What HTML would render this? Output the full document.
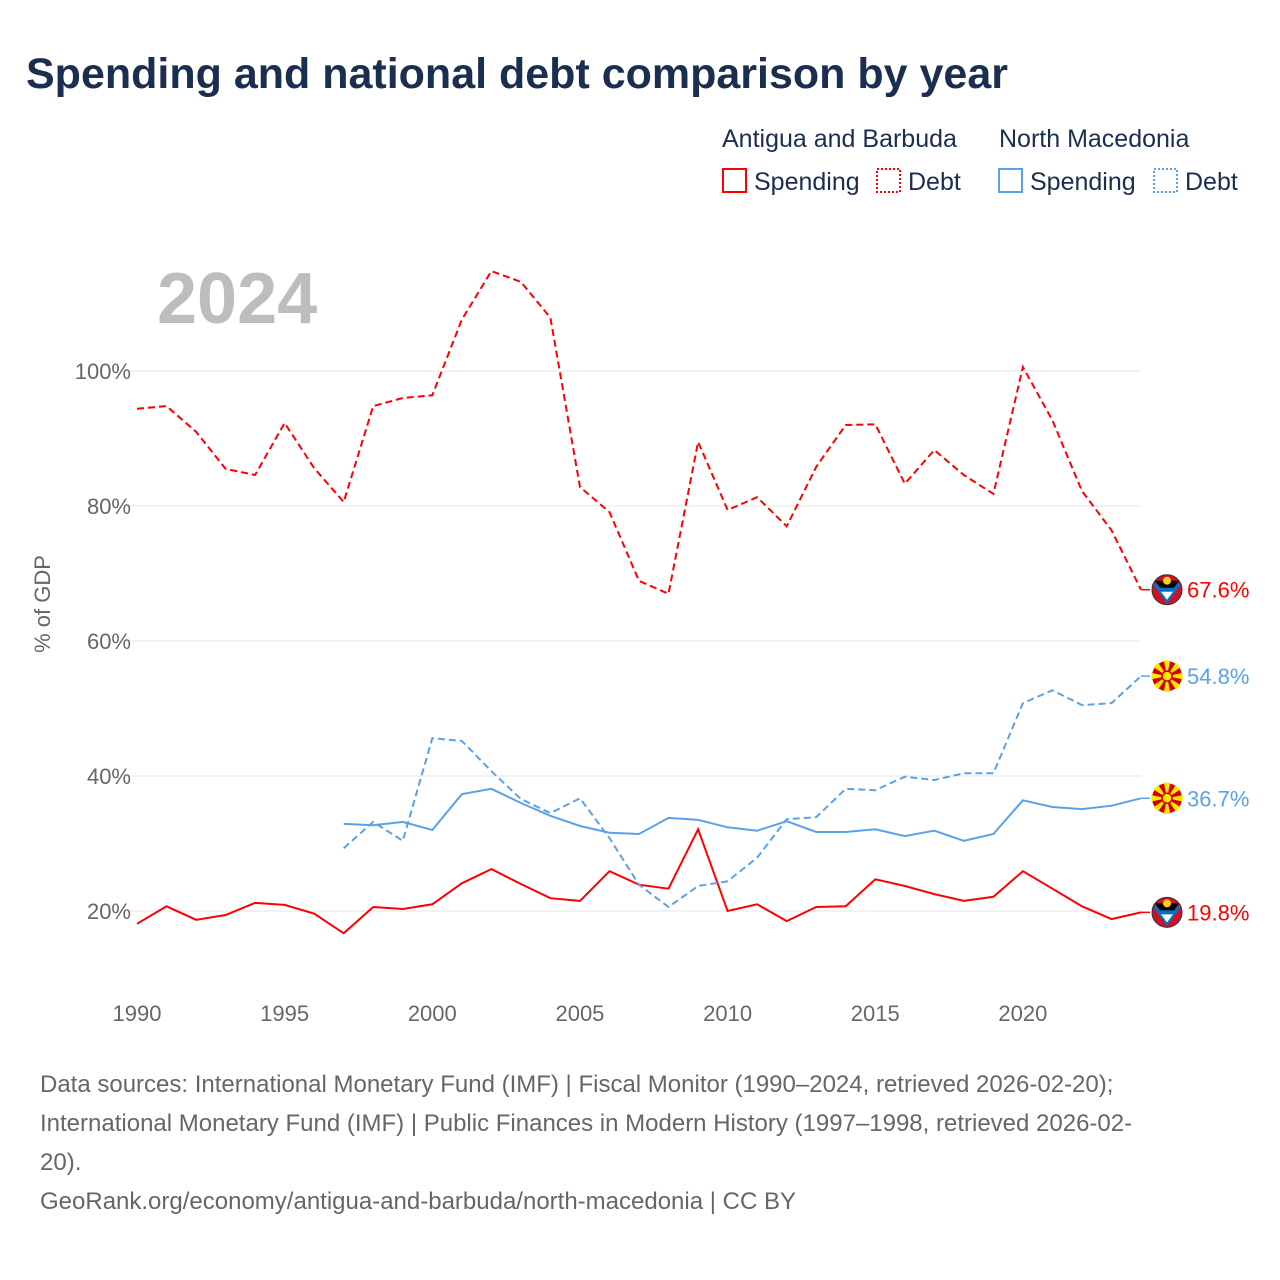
<!DOCTYPE html>
<html><head><meta charset="utf-8">
<style>
body{margin:0;background:#fff;font-family:"Liberation Sans",sans-serif;}
#wrap{position:relative;width:1280px;height:1280px;overflow:hidden;}
h1{position:absolute;left:26px;top:50px;margin:0;font-size:43px;font-weight:bold;color:#1a2e4f;letter-spacing:0px;}
.foot{position:absolute;left:40px;top:1065px;width:1220px;font-size:24px;line-height:39px;color:#666;}
</style></head><body>
<div id="wrap">
<h1>Spending and national debt comparison by year</h1>
<svg id="chart" width="1280" height="1280" style="position:absolute;left:0;top:0"></svg>
<div class="foot">Data sources: International Monetary Fund (IMF) | Fiscal Monitor (1990–2024, retrieved 2026-02-20);<br>International Monetary Fund (IMF) | Public Finances in Modern History (1997–1998, retrieved 2026-02-<br>20).<br>GeoRank.org/economy/antigua-and-barbuda/north-macedonia | CC BY</div>
</div>
<script>
const agYears=[1990,1991,1992,1993,1994,1995,1996,1997,1998,1999,2000,2001,2002,2003,2004,2005,2006,2007,2008,2009,2010,2011,2012,2013,2014,2015,2016,2017,2018,2019,2020,2021,2022,2023,2024];
const agDebt=[94.4,94.8,91,85.5,84.6,92.3,85.6,80.6,94.8,96,96.4,107.6,114.8,113.2,107.9,82.8,79.1,68.9,67,89.5,79.4,81.3,77,85.8,92,92.1,83.3,88.3,84.6,81.8,100.6,92.7,82.2,76.4,67.6];
const agSpend=[18.1,20.7,18.7,19.4,21.2,20.9,19.6,16.7,20.6,20.3,21,24.1,26.2,24,21.9,21.5,25.9,23.9,23.3,32.1,20,21,18.5,20.6,20.7,24.7,23.7,22.5,21.5,22.1,25.9,23.3,20.7,18.8,19.8];
const mkYears=[1997,1998,1999,2000,2001,2002,2003,2004,2005,2006,2007,2008,2009,2010,2011,2012,2013,2014,2015,2016,2017,2018,2019,2020,2021,2022,2023,2024];
const mkSpend=[32.9,32.7,33.2,32,37.3,38.1,36,34.1,32.6,31.6,31.4,33.8,33.5,32.4,31.9,33.3,31.7,31.7,32.1,31.1,31.9,30.4,31.4,36.4,35.4,35.1,35.6,36.7];
const mkDebt=[29.3,33.2,30.4,45.6,45.2,40.7,36.6,34.5,36.7,30.8,23.9,20.6,23.7,24.4,27.9,33.6,33.9,38.1,37.9,39.9,39.4,40.4,40.4,50.8,52.7,50.5,50.8,54.8];
const yTicks=[20,40,60,80,100];
const xTicks=[1990,1995,2000,2005,2010,2015,2020];

const svg=document.getElementById('chart');const NS='http://www.w3.org/2000/svg';
const X=y=>137+(y-1990)*29.53;
const Y=v=>911-(v-20)*6.75;
function el(t,a,p){const e=document.createElementNS(NS,t);for(const k in a)e.setAttribute(k,a[k]);(p||svg).appendChild(e);return e;}
function txt(s,a){const e=el('text',a);e.textContent=s;return e;}

yTicks.forEach(v=>{
 const l=el('line',{x1:127,x2:1141,y1:Y(v),y2:Y(v),stroke:'#e6e6e6','stroke-width':1});
 
 
 const t=txt(v+'%',{x:131,y:Y(v)+8,'text-anchor':'end','font-size':22,fill:'#666'});
 
 
});
xTicks.forEach(v=>{
 const t=txt(v,{x:X(v),y:1021,'text-anchor':'middle','font-size':22,fill:'#666'});
 
 
});
const yt=txt('% of GDP',{x:0,y:0,transform:'translate(50,604) rotate(-90)','text-anchor':'middle','font-size':22,fill:'#666'});


const yr=txt('2024',{x:157,y:323,'font-size':72,'font-weight':'bold',fill:'#bdbdbd'});



function line(xs,vs,col,dash,name){
 const d=xs.map((x,i)=>(i?'L':'M')+X(x).toFixed(1)+','+Y(vs[i]).toFixed(1)).join('');
 const p=el('path',{d:d,fill:'none',stroke:col,'stroke-width':2,'stroke-dasharray':dash?'7,4':'none'});
 
 
 const last=vs[vs.length-1];
 el('line',{x1:X(2024),x2:1150,y1:Y(last),y2:Y(last),stroke:col,'stroke-width':1.5});
 const t=txt(last.toFixed(1)+'%',{x:1187,y:Y(last)+8,'font-size':22,fill:col});
 
 
}
line(agYears,agDebt,'#ff0000',true,'antigua-debt-line');
line(agYears,agSpend,'#ff0000',false,'antigua-spending-line');
line(mkYears,mkDebt,'#5aa2e8',true,'macedonia-debt-line');
line(mkYears,mkSpend,'#5aa2e8',false,'macedonia-spending-line');

function flagAG(v){const cy=Y(v),cx=1167;
 const g=el('g',{});
 el('circle',{cx:cx,cy:cy,r:15,fill:'#ce1126'},g);
 el('path',{d:`M${cx-14},${cy-6}L${cx+14},${cy-6}L${cx},${cy+14}Z`,fill:'#0072c6'},g);
 el('path',{d:`M${cx-12},${cy-9}L${cx+12},${cy-9}L${cx+7},${cy-2}L${cx-7},${cy-2}Z`,fill:'#000'},g);
 el('path',{d:`M${cx-6},${cy+2}L${cx+6},${cy+2}L${cx},${cy+10}Z`,fill:'#fff'},g);
 el('circle',{cx:cx,cy:cy-9,r:4,fill:'#fcd116'},g);
 el('circle',{cx:cx,cy:cy,r:15,fill:'none',stroke:'#333','stroke-width':1},g);}
function flagMK(v){const cy=Y(v),cx=1167;
 const g=el('g',{});
 el('circle',{cx:cx,cy:cy,r:15,fill:'#d20000'},g);
 for(let i=0;i<8;i++){const a=i*Math.PI/4;
  el('path',{d:`M${cx},${cy}L${cx+16*Math.cos(a-0.2)},${cy+16*Math.sin(a-0.2)}L${cx+16*Math.cos(a+0.2)},${cy+16*Math.sin(a+0.2)}Z`,fill:'#ffe600'},g);}
 el('circle',{cx:cx,cy:cy,r:5,fill:'#ffe600',stroke:'#d20000','stroke-width':1.5},g);}
flagAG(agDebt[agDebt.length-1]);flagAG(agSpend[agSpend.length-1]);
flagMK(mkDebt[mkDebt.length-1]);flagMK(mkSpend[mkSpend.length-1]);

function lg(x,y,s,col,dash,name){
 const r=el('rect',{x:x,y:y-12,width:23,height:23,fill:'none',stroke:col,'stroke-width':2,'stroke-dasharray':dash?'2,2':'none'});
 
 
 const t=txt(s,{x:x+31,y:y+9,'font-size':25,fill:'#1a2e4f'});
 
 
}
const h1=txt('Antigua and Barbuda',{x:722,y:147,'font-size':25,fill:'#1a2e4f'});


const h2=txt('North Macedonia',{x:999,y:147,'font-size':25,fill:'#1a2e4f'});


lg(723,181,'Spending','#ff0000',false,'legend-antigua-spending');
lg(877,181,'Debt','#ff0000',true,'legend-antigua-debt');
lg(999,181,'Spending','#5aa2e8',false,'legend-macedonia-spending');
lg(1154,181,'Debt','#5aa2e8',true,'legend-macedonia-debt');
</script>
</body></html>
